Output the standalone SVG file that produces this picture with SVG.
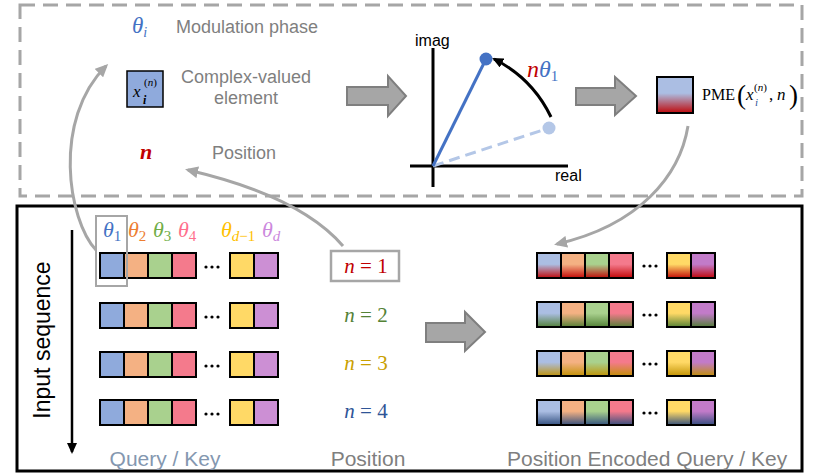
<svg xmlns="http://www.w3.org/2000/svg" width="819" height="476" viewBox="0 0 819 476">
<style>
.lbl{font-family:"Liberation Sans",Arial,sans-serif;fill:#7f7f7f}
.math{font-family:"Liberation Serif","DejaVu Serif",serif;font-style:italic}
.rm{font-family:"Liberation Serif","DejaVu Serif",serif}
.cell{stroke:#000;stroke-width:2}
.blk{fill:#a6a6a6;stroke:#7f7f7f;stroke-width:2}
.conn{fill:none;stroke:#a6a6a6;stroke-width:3}
.c1{fill:#8faadc}.c2{fill:#f4b183}.c3{fill:#a9d18e}.c4{fill:#f47a8c}.c5{fill:#ffd966}.c6{fill:#cc8fd4}
.e1{fill:#abbee3}.e6{fill:#c27bc9}
</style>
<defs>
<marker id="ga" markerUnits="userSpaceOnUse" markerWidth="14" markerHeight="12" refX="10" refY="6" orient="auto"><path d="M0,0 L13,6 L0,12 z" fill="#a6a6a6"/></marker>
<marker id="ba" markerUnits="userSpaceOnUse" markerWidth="12" markerHeight="10" refX="9" refY="5" orient="auto"><path d="M0,0 L11,5 L0,10 z" fill="#000"/></marker>
<linearGradient id="g1" x1="0" y1="0" x2="0" y2="1"><stop offset="0.45" stop-color="#c00000" stop-opacity="0"/><stop offset="1" stop-color="#c00000" stop-opacity="0.95"/></linearGradient>
<linearGradient id="g2" x1="0" y1="0" x2="0" y2="1"><stop offset="0.45" stop-color="#4e7d32" stop-opacity="0"/><stop offset="1" stop-color="#4e7d32" stop-opacity="0.95"/></linearGradient>
<linearGradient id="g3" x1="0" y1="0" x2="0" y2="1"><stop offset="0.45" stop-color="#c09000" stop-opacity="0"/><stop offset="1" stop-color="#c09000" stop-opacity="0.95"/></linearGradient>
<linearGradient id="g4" x1="0" y1="0" x2="0" y2="1"><stop offset="0.45" stop-color="#2f4c7c" stop-opacity="0"/><stop offset="1" stop-color="#2f4c7c" stop-opacity="0.95"/></linearGradient>
</defs>
<rect width="819" height="476" fill="#fff"/>

<g id="top-panel">
<rect x="20" y="5" width="782" height="191" fill="none" stroke="#a6a6a6" stroke-width="3" stroke-dasharray="15 8"/>
</g>
<g id="bottom-panel">
<rect x="17" y="206" width="785" height="265" fill="none" stroke="#000" stroke-width="3"/>
</g>

<g id="legend-theta">
<text class="math" x="132" y="33" font-size="23" fill="#4472c4">θ<tspan font-size="14" dy="4">i</tspan></text>
<text class="lbl" x="176" y="33" font-size="18">Modulation phase</text>
</g>
<g id="legend-element">
<rect x="127" y="71" width="36" height="36" fill="#8faadc" stroke="#000" stroke-width="1.5"/>
<text class="math" x="133" y="97" font-size="17">x</text>
<text class="math" x="143" y="104" font-size="12" font-weight="bold">i</text>
<text class="rm" x="144" y="86" font-size="11">(<tspan font-style="italic">n</tspan>)</text>
<text class="lbl" x="246" y="83" font-size="18" text-anchor="middle">Complex-valued</text>
<text class="lbl" x="246" y="104" font-size="18" text-anchor="middle">element</text>
</g>
<g id="legend-position">
<text class="math" x="140" y="159" font-size="22" font-weight="bold" fill="#c00000">n</text>
<text class="lbl" x="212" y="159" font-size="18">Position</text>
</g>

<g id="arrow-top-1"><polygon class="blk" points="347,87 388,87 388,76 406,96 388,116 388,105 347,105"/></g>

<g id="complex-plane">
<line x1="433" y1="48" x2="433" y2="187" stroke="#000" stroke-width="3"/>
<line x1="410" y1="166" x2="568" y2="166" stroke="#000" stroke-width="3"/>
<text x="415" y="46" font-family="Liberation Sans,Arial,sans-serif" font-size="16">imag</text>
<text x="555" y="181" font-family="Liberation Sans,Arial,sans-serif" font-size="16">real</text>
<line x1="433" y1="166" x2="549" y2="128" stroke="#b4c7e7" stroke-width="3" stroke-dasharray="11 6"/>
<circle cx="549" cy="128" r="6.5" fill="#b4c7e7"/>
<line x1="433" y1="166" x2="486" y2="59" stroke="#4472c4" stroke-width="3"/>
<circle cx="486" cy="59" r="6.5" fill="#4472c4"/>
<path d="M551,117 A126,126 0 0 0 494,59" fill="none" stroke="#000" stroke-width="3" marker-end="url(#ba)"/>
<text class="math" x="527" y="77" font-size="24"><tspan fill="#c00000">n</tspan><tspan fill="#4472c4">θ</tspan><tspan fill="#4472c4" font-size="15" font-style="normal" dy="4">1</tspan></text>
</g>

<g id="arrow-top-2"><polygon class="blk" points="576,88 615,88 615,77 636,96 615,115 615,105 576,105"/></g>

<g id="pme">
<rect x="657" y="77" width="36" height="36" class="e1"/>
<rect x="657" y="77" width="36" height="36" fill="url(#g1)" stroke="#000" stroke-width="2"/>
<text class="rm" x="702" y="100" font-size="16">PME</text>
<text class="rm" x="737" y="104" font-size="27">(</text>
<text class="math" x="746" y="100" font-size="17">x</text>
<text class="math" x="755" y="106" font-size="11" fill="#2f5597">i</text>
<text class="rm" x="754" y="91" font-size="11">(<tspan font-style="italic">n</tspan>)</text>
<text class="rm" x="769" y="100" font-size="17">,</text>
<text class="math" x="777" y="100" font-size="17">n</text>
<text class="rm" x="789" y="104" font-size="27">)</text>
</g>

<g id="input-sequence">
<line x1="72" y1="230" x2="72" y2="452" stroke="#000" stroke-width="2.5" marker-end="url(#ba)"/>
<text x="50" y="340" font-family="Liberation Sans,Arial,sans-serif" font-size="23" text-anchor="middle" transform="rotate(-90 50 340)">Input sequence</text>
</g>

<g id="theta-labels" class="math" font-size="22">
<text x="103" y="237" fill="#4472c4">θ<tspan font-size="15" font-style="normal" dy="4">1</tspan></text>
<text x="128" y="237" fill="#ed7d31">θ<tspan font-size="15" font-style="normal" dy="4">2</tspan></text>
<text x="153" y="237" fill="#70ad47">θ<tspan font-size="15" font-style="normal" dy="4">3</tspan></text>
<text x="178" y="237" fill="#ff6f8c">θ<tspan font-size="15" font-style="normal" dy="4">4</tspan></text>
<text x="221" y="237" fill="#ffc000">θ<tspan font-size="15" dy="4">d</tspan><tspan font-size="15" font-style="normal">−1</tspan></text>
<text x="262" y="237" fill="#cc88dd">θ<tspan font-size="15" dy="4">d</tspan></text>
</g>

<g id="query-key">
<g transform="translate(0,253)">
<rect class="cell c1" x="100" y="0" width="24" height="25"/><rect class="cell c2" x="124" y="0" width="24" height="25"/><rect class="cell c3" x="148" y="0" width="24" height="25"/><rect class="cell c4" x="172" y="0" width="24" height="25"/>
<circle cx="206" cy="14" r="1.6"/><circle cx="212" cy="14" r="1.6"/><circle cx="218" cy="14" r="1.6"/>
<rect class="cell c5" x="230" y="0" width="24" height="25"/><rect class="cell c6" x="254" y="0" width="24" height="25"/>
</g>
<g transform="translate(0,303)">
<rect class="cell c1" x="100" y="0" width="24" height="25"/><rect class="cell c2" x="124" y="0" width="24" height="25"/><rect class="cell c3" x="148" y="0" width="24" height="25"/><rect class="cell c4" x="172" y="0" width="24" height="25"/>
<circle cx="206" cy="14" r="1.6"/><circle cx="212" cy="14" r="1.6"/><circle cx="218" cy="14" r="1.6"/>
<rect class="cell c5" x="230" y="0" width="24" height="25"/><rect class="cell c6" x="254" y="0" width="24" height="25"/>
</g>
<g transform="translate(0,352)">
<rect class="cell c1" x="100" y="0" width="24" height="25"/><rect class="cell c2" x="124" y="0" width="24" height="25"/><rect class="cell c3" x="148" y="0" width="24" height="25"/><rect class="cell c4" x="172" y="0" width="24" height="25"/>
<circle cx="206" cy="14" r="1.6"/><circle cx="212" cy="14" r="1.6"/><circle cx="218" cy="14" r="1.6"/>
<rect class="cell c5" x="230" y="0" width="24" height="25"/><rect class="cell c6" x="254" y="0" width="24" height="25"/>
</g>
<g transform="translate(0,400)">
<rect class="cell c1" x="100" y="0" width="24" height="25"/><rect class="cell c2" x="124" y="0" width="24" height="25"/><rect class="cell c3" x="148" y="0" width="24" height="25"/><rect class="cell c4" x="172" y="0" width="24" height="25"/>
<circle cx="206" cy="14" r="1.6"/><circle cx="212" cy="14" r="1.6"/><circle cx="218" cy="14" r="1.6"/>
<rect class="cell c5" x="230" y="0" width="24" height="25"/><rect class="cell c6" x="254" y="0" width="24" height="25"/>
</g>
<rect x="96" y="216" width="31" height="70" fill="none" stroke="#a6a6a6" stroke-width="2"/>
<text class="lbl" x="165" y="466" font-size="21" text-anchor="middle" style="fill:#8497b0">Query / Key</text>
</g>

<g id="positions" font-size="21">
<rect x="331" y="251" width="68" height="30" fill="none" stroke="#a6a6a6" stroke-width="2.5"/>
<text class="rm" x="366" y="273" text-anchor="middle" fill="#c00000"><tspan font-style="italic">n</tspan> = 1</text>
<text class="rm" x="366" y="322" text-anchor="middle" fill="#548235"><tspan font-style="italic">n</tspan> = 2</text>
<text class="rm" x="366" y="370" text-anchor="middle" fill="#c9a000"><tspan font-style="italic">n</tspan> = 3</text>
<text class="rm" x="366" y="418" text-anchor="middle" fill="#2f5597"><tspan font-style="italic">n</tspan> = 4</text>
<text class="lbl" x="368" y="466" font-size="21" text-anchor="middle">Position</text>
</g>

<g id="arrow-mid"><polygon class="blk" points="426,323 465,323 465,312 485,332 465,351 465,342 426,342"/></g>

<g id="encoded">
<g transform="translate(0,253)">
<rect class="e1" x="537" y="0" width="24" height="25"/><rect class="c2" x="561" y="0" width="24" height="25"/><rect class="c3" x="585" y="0" width="24" height="25"/><rect class="c4" x="609" y="0" width="24" height="25"/><rect class="c5" x="667" y="0" width="24" height="25"/><rect class="e6" x="691" y="0" width="24" height="25"/>
<g fill="url(#g1)" class="cell"><rect x="537" y="0" width="24" height="25"/><rect x="561" y="0" width="24" height="25"/><rect x="585" y="0" width="24" height="25"/><rect x="609" y="0" width="24" height="25"/><rect x="667" y="0" width="24" height="25"/><rect x="691" y="0" width="24" height="25"/></g>
<circle cx="644" cy="13" r="1.6"/><circle cx="650" cy="13" r="1.6"/><circle cx="656" cy="13" r="1.6"/>
</g>
<g transform="translate(0,302)">
<rect class="e1" x="537" y="0" width="24" height="25"/><rect class="c2" x="561" y="0" width="24" height="25"/><rect class="c3" x="585" y="0" width="24" height="25"/><rect class="c4" x="609" y="0" width="24" height="25"/><rect class="c5" x="667" y="0" width="24" height="25"/><rect class="e6" x="691" y="0" width="24" height="25"/>
<g fill="url(#g2)" class="cell"><rect x="537" y="0" width="24" height="25"/><rect x="561" y="0" width="24" height="25"/><rect x="585" y="0" width="24" height="25"/><rect x="609" y="0" width="24" height="25"/><rect x="667" y="0" width="24" height="25"/><rect x="691" y="0" width="24" height="25"/></g>
<circle cx="644" cy="13" r="1.6"/><circle cx="650" cy="13" r="1.6"/><circle cx="656" cy="13" r="1.6"/>
</g>
<g transform="translate(0,351)">
<rect class="e1" x="537" y="0" width="24" height="25"/><rect class="c2" x="561" y="0" width="24" height="25"/><rect class="c3" x="585" y="0" width="24" height="25"/><rect class="c4" x="609" y="0" width="24" height="25"/><rect class="c5" x="667" y="0" width="24" height="25"/><rect class="e6" x="691" y="0" width="24" height="25"/>
<g fill="url(#g3)" class="cell"><rect x="537" y="0" width="24" height="25"/><rect x="561" y="0" width="24" height="25"/><rect x="585" y="0" width="24" height="25"/><rect x="609" y="0" width="24" height="25"/><rect x="667" y="0" width="24" height="25"/><rect x="691" y="0" width="24" height="25"/></g>
<circle cx="644" cy="13" r="1.6"/><circle cx="650" cy="13" r="1.6"/><circle cx="656" cy="13" r="1.6"/>
</g>
<g transform="translate(0,400)">
<rect class="e1" x="537" y="0" width="24" height="25"/><rect class="c2" x="561" y="0" width="24" height="25"/><rect class="c3" x="585" y="0" width="24" height="25"/><rect class="c4" x="609" y="0" width="24" height="25"/><rect class="c5" x="667" y="0" width="24" height="25"/><rect class="e6" x="691" y="0" width="24" height="25"/>
<g fill="url(#g4)" class="cell"><rect x="537" y="0" width="24" height="25"/><rect x="561" y="0" width="24" height="25"/><rect x="585" y="0" width="24" height="25"/><rect x="609" y="0" width="24" height="25"/><rect x="667" y="0" width="24" height="25"/><rect x="691" y="0" width="24" height="25"/></g>
<circle cx="644" cy="13" r="1.6"/><circle cx="650" cy="13" r="1.6"/><circle cx="656" cy="13" r="1.6"/>
</g>
<text class="lbl" x="507" y="466" font-size="21">Position Encoded Query / Key</text>
</g>

<g id="connectors">
<path class="conn" d="M96,250 C68,220 52,120 106,66" marker-end="url(#ga)"/>
<path class="conn" d="M343,246 Q300,196 188,170" marker-end="url(#ga)"/>
<path class="conn" d="M688,126 C680,175 640,225 557,244" marker-end="url(#ga)"/>
</g>
</svg>
